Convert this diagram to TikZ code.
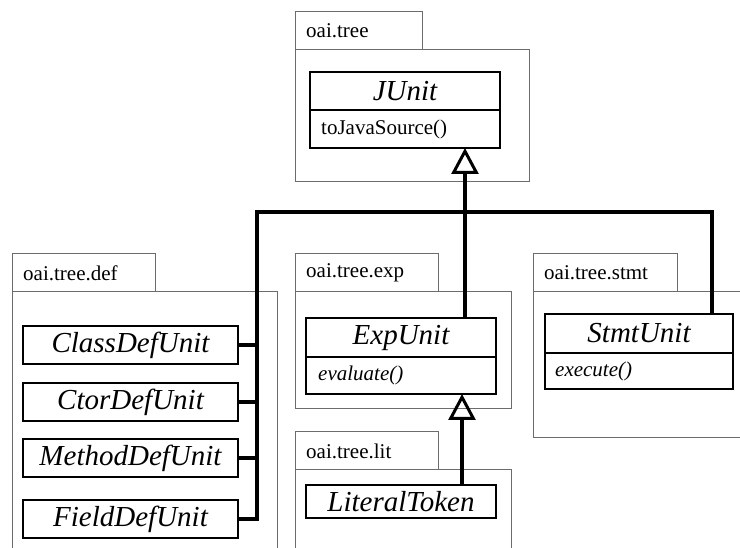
\documentclass[tikz,border=0pt]{standalone}
\usepackage{fontspec}
\setmainfont{Liberation Serif}
\usetikzlibrary{arrows.meta}
\tikzset{
  pkg/.style={draw=gray!85!black, line width=1pt},
  pkglabel/.style={anchor=west, inner sep=0pt, font=\fontsize{21}{24}\selectfont},
  cls/.style={draw=black, line width=2pt, inner sep=0pt, fill=white},
  clsname/.style={inner sep=0pt, font=\fontsize{29}{33}\selectfont\itshape},
  meth/.style={anchor=west, inner sep=0pt, font=\fontsize{21}{24}\selectfont},
  div/.style={draw=black, line width=2pt},
  conn/.style={draw=black, line width=4pt},
  inh/.style={conn, -{Triangle[open, width=27pt, length=26pt, line width=3pt]}}
}
\begin{document}
\begin{tikzpicture}[x=1pt, y=-1pt]
\useasboundingbox (0,0) rectangle (740,548);
\clip (0,0) rectangle (740,548);
\fill[white] (0,0) rectangle (740,548);

% packages
\draw[pkg] (295,12) rectangle (422,50);
\draw[pkg] (295,50) rectangle (529,182);
\node[pkglabel] (pTree) at (306,31) {oai.tree};

\draw[pkg] (12,254) rectangle (155,292);
\draw[pkg] (12,292) rectangle (277,600);
\node[pkglabel] (pDef) at (23,273) {oai.tree.def};

\draw[pkg] (295,254) rectangle (438,292);
\draw[pkg] (295,292) rectangle (511,409);
\node[pkglabel] (pExp) at (306,273) {oai.tree.exp};

\draw[pkg] (295,432) rectangle (438,469);
\draw[pkg] (295,469) rectangle (511,600);
\node[pkglabel] (pLit) at (306,451) {oai.tree.lit};

\draw[pkg] (533,254) rectangle (677,292);
\draw[pkg] (533,292) rectangle (760,438);
\node[pkglabel] (pStmt) at (544,273) {oai.tree.stmt};

% JUnit
\node[cls, minimum width=190pt, minimum height=76pt] (JUnit) at (405,110) {};
\node[clsname] (JUnitN) at (405,91) {JUnit};
\draw[div] (JUnit.west |- 0,110) -- (JUnit.east |- 0,110);
\node[meth] (JUnitM) at (321,129) {toJavaSource()};

% ExpUnit
\node[cls, minimum width=190pt, minimum height=76pt] (ExpUnit) at (401,356) {};
\node[clsname] (ExpUnitN) at (401,337.5) {ExpUnit};
\draw[div] (ExpUnit.west |- 0,357) -- (ExpUnit.east |- 0,357);
\node[meth, font=\fontsize{21}{24}\selectfont\itshape] (ExpUnitM) at (318,375.5) {evaluate()};

% StmtUnit
\node[cls, minimum width=188pt, minimum height=75pt] (StmtUnit) at (639,351.5) {};
\node[clsname] (StmtUnitN) at (639,333.5) {StmtUnit};
\draw[div] (StmtUnit.west |- 0,353) -- (StmtUnit.east |- 0,353);
\node[meth, font=\fontsize{21}{24}\selectfont\itshape] (StmtUnitM) at (555,371) {execute()};

% LiteralToken
\node[cls, minimum width=190pt, minimum height=33pt, clsname, draw=black, line width=2pt] (Lit) at (401,501.5) {LiteralToken};

% def classes
\node[cls, clsname, draw=black, line width=2pt, minimum width=215pt, minimum height=38pt] (ClassDef) at (130.5,345) {ClassDefUnit};
\node[cls, clsname, draw=black, line width=2pt, minimum width=215pt, minimum height=38pt] (CtorDef) at (130.5,402) {CtorDefUnit};
\node[cls, clsname, draw=black, line width=2pt, minimum width=215pt, minimum height=38pt] (MethodDef) at (130.5,458) {MethodDefUnit};
\node[cls, clsname, draw=black, line width=2pt, minimum width=215pt, minimum height=38pt] (FieldDef) at (130.5,519) {FieldDefUnit};

% connectors
\coordinate (busL) at (257,212);
\coordinate (busR) at (712,212);
\coordinate (jtip) at (465,148);
\coordinate (etip) at (462,394);

\draw[conn] (FieldDef.east) -| (busL) -- (busR) -- (busR |- StmtUnit.north);
\draw[conn] (ClassDef.east) -- (ClassDef.east -| busL);
\draw[conn] (CtorDef.east) -- (CtorDef.east -| busL);
\draw[conn] (MethodDef.east) -- (MethodDef.east -| busL);
\draw[inh] (jtip |- ExpUnit.north) -- (jtip);
\draw[inh] (etip |- Lit.north) -- (etip);
\end{tikzpicture}
\end{document}
